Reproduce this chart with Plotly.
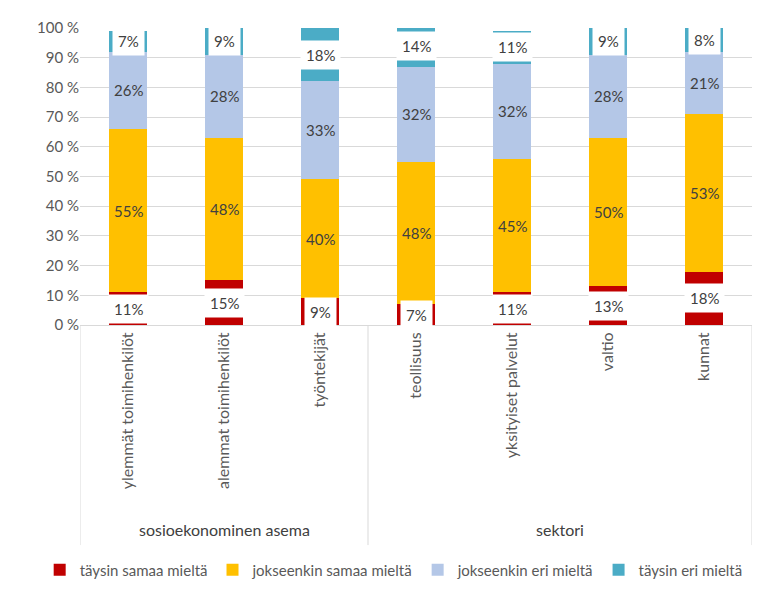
import plotly.graph_objects as go

categories = ["ylemmät toimihenkilöt", "alemmat toimihenkilöt", "työntekijät",
              "teollisuus", "yksityiset palvelut", "valtio", "kunnat"]
groups = ["sosioekonominen asema", "sektori"]
group_sizes = [3, 4]
series_names = ["täysin samaa mieltä", "jokseenkin samaa mieltä",
                "jokseenkin eri mieltä", "täysin eri mieltä"]
taysin_samaa = [11, 15, 9, 7, 11, 13, 18]
jokseenkin_samaa = [55, 48, 40, 48, 45, 50, 53]
jokseenkin_eri = [26, 28, 33, 32, 32, 28, 21]
taysin_eri = [7, 9, 18, 14, 11, 9, 8]
colors = ["#C00000", "#FFC000", "#B4C7E7", "#4BACC6"]
y_ticks = [0, 10, 20, 30, 40, 50, 60, 70, 80, 90, 100]

series = [taysin_samaa, jokseenkin_samaa, jokseenkin_eri, taysin_eri]
label_boxed = [True, False, False, True]

FONT = "Lato"
xs = list(range(len(categories)))

fig = go.Figure()
for name, vals, col in zip(series_names, series, colors):
    fig.add_trace(go.Bar(x=xs, y=vals, name=name, marker=dict(color=col, line=dict(width=0)),
                         width=0.4))

annotations = []
base = [0] * len(categories)
for vals, boxed in zip(series, label_boxed):
    for i, v in enumerate(vals):
        mid = base[i] + v / 2
        ann = dict(x=xs[i], y=mid, xref="x", yref="y", text=f"{v}%", showarrow=False,
                   font=dict(family=FONT, size=15, color="#404040"))
        if boxed:
            ann.update(bgcolor="white", borderpad=5)
        annotations.append(ann)
        base[i] += v

shapes = []
start = 0
for g, n in zip(groups, group_sizes):
    center = start + (n - 1) / 2
    annotations.append(dict(x=center, y=-0.69, xref="x", yref="paper", text=g, showarrow=False,
                            font=dict(family=FONT, size=16, color="#404040"), yanchor="middle"))
    start += n
bounds = [-0.5]
acc = -0.5
for n in group_sizes:
    acc += n
    bounds.append(acc)
for b in bounds:
    shapes.append(dict(type="line", xref="x", yref="paper", x0=b, x1=b, y0=0, y1=-0.741,
                       line=dict(color="#D9D9D9", width=1)))

fig.update_layout(
    width=765, height=595,
    margin=dict(l=72, r=21, t=20, b=278, autoexpand=False),
    barmode="stack",
    plot_bgcolor="white", paper_bgcolor="white",
    font=dict(family=FONT, size=15, color="#595959"),
    annotations=annotations,
    shapes=shapes,
    showlegend=True,
    legend=dict(orientation="h", x=-0.06, xanchor="left", y=-0.825, yanchor="middle",
                font=dict(family=FONT, size=15, color="#595959"), itemwidth=30,
                traceorder="normal"),
    xaxis=dict(range=[-0.5, 6.5], tickmode="array", tickvals=xs, ticktext=categories,
               tickangle=-90, showgrid=False, showline=True, linecolor="#D9D9D9",
               ticks="", automargin=False,
               tickfont=dict(family=FONT, size=16, color="#595959"), fixedrange=True),
    yaxis=dict(range=[0, 100], tickmode="array", tickvals=y_ticks,
               ticktext=[f"{t} %" for t in y_ticks],
               showgrid=True, gridcolor="#D9D9D9", zeroline=False, showline=False,
               ticks="", automargin=False,
               tickfont=dict(family=FONT, size=15, color="#595959"), fixedrange=True),
)
fig.write_html("out.html")
